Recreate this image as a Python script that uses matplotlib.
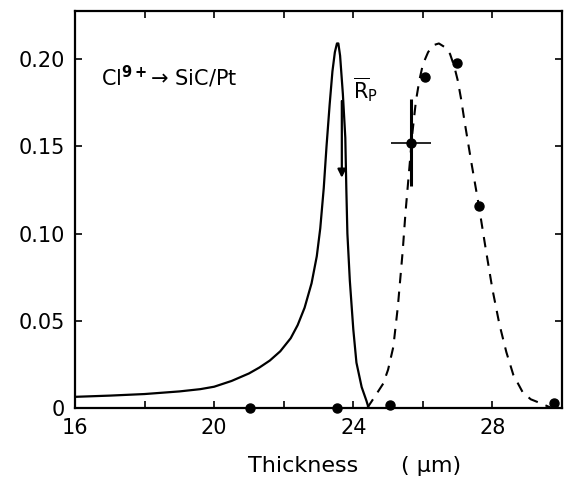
#range distribution of Cl9+ ions in SiC/Pt - calculated profile (solid),
#measured points with fitted dashed curve, and mean projected range arrow
import matplotlib
matplotlib.use('Agg')
import matplotlib.pyplot as plt
import numpy as np

plt.rcParams['font.family'] = 'DejaVu Sans'
plt.rcParams['mathtext.fontset'] = 'dejavusans'

# calculated profile (solid line)
calc_x = [16.0, 17.0, 18.0, 19.0, 19.6, 20.0, 20.5, 21.0, 21.3, 21.6, 21.9,
          22.2, 22.4, 22.6, 22.8, 22.95, 23.05, 23.15, 23.23, 23.32, 23.40,
          23.47, 23.53, 23.57, 23.62, 23.70, 23.77, 23.80, 23.83, 23.90, 24.00,
          24.09, 24.24, 24.38, 24.44]
calc_y = [0.0064, 0.0071, 0.0080, 0.0095, 0.0108, 0.0122, 0.0155, 0.0198,
          0.0232, 0.0272, 0.0325, 0.0400, 0.0475, 0.0575, 0.0715, 0.0870,
          0.1030, 0.1260, 0.1500, 0.1740, 0.1930, 0.2040, 0.2090, 0.2090,
          0.2020, 0.1800, 0.1550, 0.1250, 0.1000, 0.0730, 0.0450, 0.0260,
          0.0120, 0.0040, 0.0]

# fitted curve through measurements (dashed line)
fit_x = [24.40, 24.60, 24.86, 25.0, 25.15, 25.28, 25.42, 25.5, 25.6, 25.7, 25.8,
         25.9, 26.0, 26.15, 26.3, 26.46, 26.62, 26.78, 26.9, 27.0, 27.1, 27.2,
         27.4, 27.6, 27.8, 28.0, 28.2, 28.4, 28.6, 28.87, 29.1, 29.35, 29.7]
fit_y = [0.0, 0.006, 0.014, 0.022, 0.035, 0.058, 0.090, 0.112, 0.135, 0.158,
         0.176, 0.188, 0.197, 0.204, 0.208, 0.209, 0.207, 0.203, 0.196, 0.188,
         0.177, 0.164, 0.140, 0.117, 0.092, 0.068, 0.048, 0.032, 0.019, 0.009,
         0.005, 0.003, 0.0]

# measured points
meas_x = [21.03, 23.54, 25.05, 26.07, 26.99, 27.62, 29.76]
meas_y = [0.0, 0.0, 0.002, 0.190, 0.198, 0.116, 0.003]

# point with error bars
err_x, err_y = 25.66, 0.152
err_dx, err_dy = 0.57, 0.025

# mean projected range arrow
rp_x = 23.67
rp_top, rp_bottom = 0.176, 0.132

fig = plt.figure(figsize=(5.64, 4.86), dpi=100)
ax = fig.add_axes([0.133, 0.1605, 0.8635, 0.8165])

ax.plot(calc_x, calc_y, color='black', lw=1.6)
ax.plot(fit_x, fit_y, color='black', lw=1.5, ls=(0, (5, 4)))
ax.plot(meas_x, meas_y, 'o', color='black', ms=6.5, clip_on=False)

ax.errorbar([err_x], [err_y], yerr=err_dy, fmt='none', ecolor='black', elinewidth=2.2)
ax.errorbar([err_x], [err_y], xerr=err_dx, fmt='none', ecolor='black', elinewidth=1.2)
ax.plot([err_x], [err_y], 'o', color='black', ms=6.5)

ax.annotate('', xy=(rp_x, rp_bottom), xytext=(rp_x, rp_top),
            arrowprops=dict(arrowstyle='-|>', color='black', lw=1.6,
                            mutation_scale=12, shrinkA=0, shrinkB=0))
ax.text(23.98, 0.174, r'$\overline{\mathrm{R}}_{\mathrm{P}}$', fontsize=15,
        ha='left', va='bottom')

ax.text(16.75, 0.185, r'Cl$^{\mathbf{9+}}$' + '\u2192 SiC/Pt', fontsize=15,
        ha='left', va='baseline')

ax.set_xlim(16, 30)
ax.set_ylim(0, 0.2275)
ax.set_xticks(np.arange(16, 30, 2))
ax.set_xticklabels(['16', '', '20', '', '24', '', '28'])
ax.set_yticks([0, 0.05, 0.10, 0.15, 0.20])
ax.set_yticklabels(['0', '0.05', '0.10', '0.15', '0.20'])
ax.tick_params(direction='in', length=5, width=1.2, top=True, right=True,
               labelsize=15)
ax.tick_params(axis='x', pad=7)
ax.tick_params(axis='y', pad=7)
for s in ax.spines.values():
    s.set_linewidth(1.6)

ax.set_xlabel('Thickness      ( \u03bcm)', fontsize=16)
ax.xaxis.set_label_coords(0.573, -0.12)

fig.savefig('out.png', dpi=100)
